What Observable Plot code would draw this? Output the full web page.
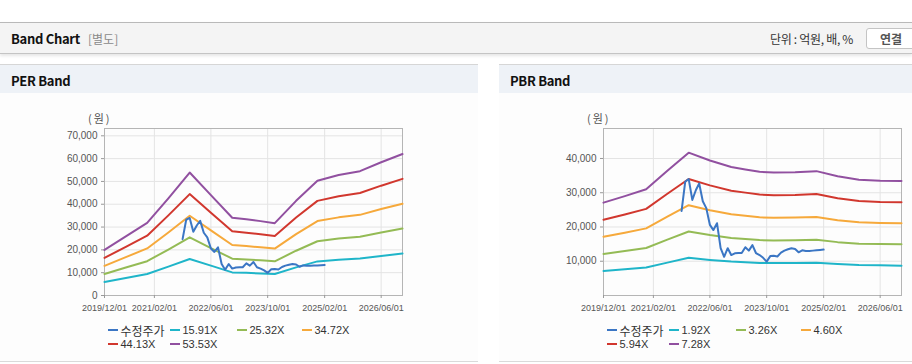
<!DOCTYPE html>
<html><head><meta charset="utf-8">
<script src="https://cdn.jsdelivr.net/npm/d3@7"></script>
<script src="https://cdn.jsdelivr.net/npm/@observablehq/plot@0.6"></script>
<style>
body{margin:0;background:#fff;}
#page{position:relative;width:912px;height:364px;overflow:hidden;font-family:"Noto Sans CJK KR","Noto Sans",sans-serif;color:#222;}
#hdr{position:absolute;left:0;top:22px;width:912px;height:30px;background:#f4f4f4;border-top:1px solid #b9b9b9;border-bottom:1px solid #c4c4c4;box-shadow:0 2px 3px rgba(0,0,0,0.10);}
#hdr .t{position:absolute;left:11px;top:6px;font-size:13px;font-weight:700;letter-spacing:-0.3px;color:#111;}
#hdr .s{position:absolute;left:88px;top:7px;font-size:12px;color:#8a8a8a;}
#hdr .u{position:absolute;left:770px;top:7px;font-size:12px;color:#333;letter-spacing:-0.3px;}
#hdr .b{position:absolute;left:866px;top:5px;width:60px;height:19px;background:#fff;border:1px solid #c4c4c4;border-radius:3px;font-size:12px;font-weight:700;color:#555;}
#hdr .b span{position:absolute;left:13px;top:1px;}
.panel{position:absolute;top:64px;height:297px;background:#fdfdfd;border-bottom:1px solid #dadada;}
.ph{position:absolute;left:0;top:0;right:0;height:28px;background:#eef2f7;border-top:1px solid #d6d6d6;}
.ph span{position:absolute;left:11px;top:6px;font-size:13px;font-weight:700;letter-spacing:-0.3px;color:#111;}
.unit{position:absolute;top:110px;font-size:11px;color:#555;letter-spacing:2px;}
.legend{position:absolute;top:323px;display:grid;grid-template-columns:62px 67px 65px 65px;grid-auto-rows:14px;font-family:"Liberation Sans",Arial,"Noto Sans CJK KR",sans-serif;font-size:11px;color:#333;}
.legend div{display:flex;align-items:center;white-space:nowrap;}
.legend i{display:inline-block;width:10px;height:2px;margin-right:3px;}
.legend .ko{font-family:"Noto Sans CJK KR",sans-serif;font-size:12px;}
svg{position:absolute;}
</style></head>
<body><div id="page">
<div id="hdr"><span class="t">Band Chart</span><span class="s">[별도]</span><span class="u">단위 : 억원, 배, %</span><div class="b"><span>연결</span></div></div>
<div class="panel" style="left:0;width:478px"><div class="ph"><span>PER Band</span></div></div>
<div class="panel" style="left:499px;width:413px"><div class="ph"><span>PBR Band</span></div></div>
<div class="unit" style="left:88px">(원)</div>
<div class="unit" style="left:587px">(원)</div>
</div>
<script>
// ---- data ----
const xTickDates = ["2019-12-01","2021-02-01","2022-06-01","2023-10-01","2025-02-01","2026-06-01"];
const bandDates = ["2019-12-01","2020-06-01","2020-12-01","2021-06-01","2021-12-01","2022-06-01","2022-12-01","2023-04-01","2023-08-01","2023-12-01","2024-06-01","2024-12-01","2025-06-01","2025-12-01","2026-06-01","2026-12-01"];
const priceDates = ["2021-10-01","2021-11-01","2021-12-01","2022-01-01","2022-02-01","2022-03-01","2022-04-01","2022-05-01","2022-06-01","2022-07-01","2022-08-01","2022-09-01","2022-10-01","2022-11-01","2022-12-01","2023-01-01","2023-02-01","2023-03-01","2023-04-01","2023-05-01","2023-06-01","2023-07-01","2023-08-01","2023-09-01","2023-10-01","2023-11-01","2023-12-01","2024-01-01","2024-02-01","2024-03-01","2024-04-01","2024-05-01","2024-06-01","2024-07-01","2024-08-01","2024-09-01","2024-10-01","2024-11-01","2024-12-01","2025-01-01","2025-02-01"];
const price = [24700,33200,34000,27900,30800,32700,27500,25500,20600,19100,21100,13800,11300,13800,11800,12300,12400,12400,14100,13100,14700,12400,11800,11000,9900,11500,11600,11400,12500,13100,13500,13800,13600,12600,13200,13000,13000,13100,13200,13300,13400];

const perLabels = ["수정주가","15.91X","25.32X","34.72X","44.13X","53.53X"];
const per1591 = [5940,7700,9450,12660,16020,13080,10130,9930,9690,9420,12330,14950,15690,16200,17360,18430];
const per2532 = [9460,12250,15040,20150,25490,20810,16130,15800,15420,14990,19630,23790,24970,25780,27620,29330];
const per3472 = [12970,16800,20630,27630,34960,28540,22120,21660,21140,20560,26920,32620,34250,35350,37880,40210];
const per4413 = [16490,21350,26220,35120,44440,36270,28110,27530,26880,26130,34210,41470,43530,44930,48140,51110];
const per5353 = [20000,25900,31800,42600,53900,44000,34100,33400,32600,31700,41500,50300,52800,54500,58400,62000];
const perYTicks = [0,10000,20000,30000,40000,50000,60000,70000];

const pbrLabels = ["수정주가","1.92X","3.26X","4.60X","5.94X","7.28X"];
const pbr192 = [7150,7650,8170,9600,11000,10390,9890,9700,9520,9470,9490,9570,9180,8910,8830,8700];
const pbr326 = [12140,12990,13880,16300,18670,17640,16790,16480,16170,16080,16120,16260,15580,15140,15000,14960];
const pbr460 = [17120,18330,19590,23000,26350,24900,23700,23250,22810,22690,22750,22940,21990,21360,21170,21110];
const pbr594 = [22110,23660,25290,29700,34020,32150,30600,30030,29450,29290,29370,29620,28390,27580,27330,27250];
const pbr728 = [27100,29000,31000,36400,41700,39400,37500,36800,36100,35900,36000,36300,34800,33800,33500,33400];
const pbrYTicks = [10000,20000,30000,40000];

const colors = ["#3b76c4","#1fb5c9","#94bb55","#f6a93b","#d1372e","#9150a0"];

// ---- chart ----
const page = document.getElementById("page");
const fmtDate = d3.utcFormat("%Y/%m/%d");
const xDomain = [new Date("2019-12-01"), new Date("2026-12-01")];

function bandChart({left, width, marginRight, yMax, yTicks, labels, bands}) {
  const rows = [];
  bands.forEach((vals, k) => vals.forEach((v, i) => rows.push({date: new Date(bandDates[i]), value: v, s: labels[k + 1]})));
  price.forEach((v, i) => rows.push({date: new Date(priceDates[i]), value: v, s: labels[0]}));
  const svg = Plot.plot({
    width, height: 220,
    marginLeft: 104, marginRight, marginTop: 28, marginBottom: 25,
    style: {fontFamily: '"Liberation Sans", Arial, sans-serif', background: "transparent", overflow: "visible"},
    x: {type: "utc", domain: xDomain},
    y: {domain: [0, yMax]},
    color: {domain: labels, range: colors},
    marks: [
      Plot.gridX(xTickDates.map(d => new Date(d)), {stroke: "#e4e4e4", strokeOpacity: 1}),
      Plot.gridY(yTicks, {stroke: "#e4e4e4", strokeOpacity: 1}),
      Plot.frame({stroke: "#b5b5b5"}),
      Plot.axisX(xTickDates.map(d => new Date(d)), {tickFormat: fmtDate, tickSize: 3, tickPadding: 6, fontSize: 9, stroke: "#999", fill: "#555", label: null}),
      Plot.axisY(yTicks, {tickFormat: d3.format(","), tickSize: 3, tickPadding: 4, fontSize: 10, stroke: "#999", fill: "#555", label: null}),
      Plot.line(rows, {x: "date", y: "value", z: "s", stroke: "s", strokeWidth: 2, curve: "linear"})
    ]
  });
  svg.style.left = left + "px";
  svg.style.top = "100px";
  page.appendChild(svg);

  const lg = document.createElement("div");
  lg.className = "legend";
  lg.style.left = (left + 107.5) + "px";
  labels.forEach((lab, k) => {
    const it = document.createElement("div");
    it.innerHTML = `<i style="background:${colors[k]}"></i><span class="${k === 0 ? "ko" : ""}">${lab}</span>`;
    lg.appendChild(it);
  });
  page.appendChild(lg);
}

bandChart({left: 0, width: 478, marginRight: 76, yMax: 73200, yTicks: perYTicks, labels: perLabels,
  bands: [per1591, per2532, per3472, per4413, per5353]});
bandChart({left: 499, width: 413, marginRight: 11, yMax: 48750, yTicks: pbrYTicks, labels: pbrLabels,
  bands: [pbr192, pbr326, pbr460, pbr594, pbr728]});
</script>
</body></html>
